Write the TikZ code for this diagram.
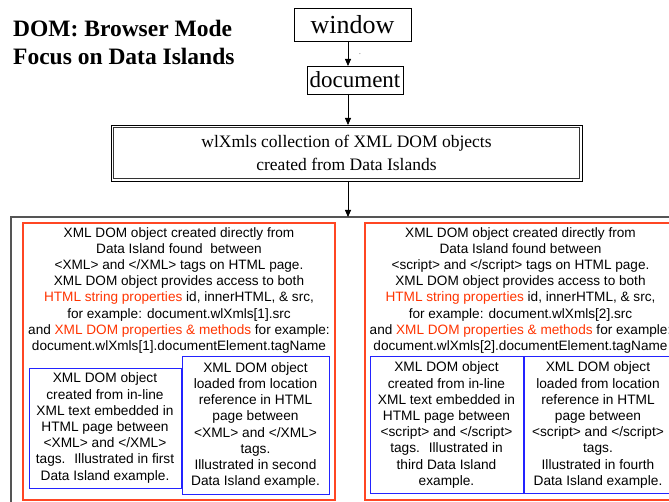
\documentclass[tikz,border=0pt]{standalone}
\usepackage{fontspec}
\setmainfont{Liberation Serif}
\setsansfont{Liberation Sans}
\usetikzlibrary{arrows.meta}
\definecolor{islandred}{RGB}{255,70,35}
\definecolor{propred}{RGB}{255,51,0}
\definecolor{boxblue}{RGB}{35,35,255}
\definecolor{framegray}{RGB}{85,85,85}
\newcommand{\prop}[1]{\textcolor{propred}{#1}}
\begin{document}
\begin{tikzpicture}[x=1pt,y=-1pt,
  plainbox/.style={draw, line width=0.8pt, inner sep=0pt, outer sep=0pt},
  link/.style={-{Triangle[length=7pt,width=6pt]}, line width=0.8pt},
  redbox/.style={draw=islandred, line width=1.2pt, inner sep=0pt, outer sep=0pt},
  bluebox/.style={draw=boxblue, line width=1pt, inner sep=0pt, outer sep=0pt,
    align=center, font=\sffamily\fontsize{13.7}{16.2}\selectfont},
  bodytext/.style={align=center, inner sep=0pt, font=\sffamily\fontsize{13.6}{16.1}\selectfont}]
\useasboundingbox (0,0) rectangle (669,502);
\clip (0,0) rectangle (669,502);

% title
\node[anchor=north west, inner sep=0pt, align=left,
  font=\bfseries\fontsize{23.5}{28}\selectfont] (title) at (13,20)
  {DOM: Browser Mode\\Focus on Data Islands};

% object chain
\node[plainbox, minimum width=117pt, minimum height=33pt,
  font=\fontsize{26}{30}\selectfont] (win) at (352.5,24.5) {window};
\node[inner sep=0pt, font=\fontsize{9}{9}\selectfont, text=gray] (dot) at (360,54) {.};
\node[plainbox, minimum width=96pt, minimum height=28pt,
  font=\fontsize{23}{26}\selectfont] (doc) at (355,80) {document};
\node[draw=black, line width=0.9pt, inner sep=0pt, outer sep=0pt,
  minimum width=471pt, minimum height=56pt, align=center,
  font=\fontsize{17.5}{23}\selectfont] (coll) at (346.5,153)
  {wlXmls collection of XML DOM objects\\created from Data Islands};
\draw[line width=0.9pt, draw=black!80]
  ([shift={(2.8,2.8)}]coll.north west) rectangle ([shift={(-2.8,-2.8)}]coll.south east);

% frame holding the two island kinds
\node[draw=framegray, line width=1.3pt, inner sep=0pt, outer sep=0pt,
  minimum width=689pt, minimum height=303pt] (frame) at (355.5,368.5) {};

\coordinate (ax) at (348,0);
\draw[link] (win.south -| ax) -- (doc.north -| ax);
\draw[link] (doc.south -| ax) -- (coll.north -| ax);
\draw[link] (coll.south -| ax) -- (frame.north -| ax);

% XML islands
\node[redbox, minimum width=312pt, minimum height=277pt] (red1) at (179,361.5) {};
\node[bodytext, anchor=north] (txt1) at (179,227.5)
  {XML DOM object created directly from\\
   Data Island found~ between\\
   <XML> and </XML> tags on HTML page.\\
   XML DOM object provides access to both\\
   \prop{HTML string properties} id, innerHTML, \& src,\\
   for example: document.wlXmls[1].src\\
   and \prop{XML DOM properties \& methods} for example:\\
   document.wlXmls[1].documentElement.tagName};
\node[bluebox, minimum width=152pt, minimum height=120pt] (blue1) at (105,428)
  {XML DOM object\\created from in-line\\XML text embedded in\\HTML page between\\
   <XML> and </XML>\\tags.~ Illustrated in first\\Data Island example.};
\node[bluebox, minimum width=147pt, minimum height=137pt] (blue2) at (255.5,425.5)
  {XML DOM object\\loaded from location\\reference in HTML\\page between\\
   <XML> and </XML>\\tags.\\ Illustrated in second\\Data Island example.};

% script islands
\node[redbox, minimum width=311pt, minimum height=277pt] (red2) at (520.5,361.5) {};
\node[bodytext, anchor=north] (txt2) at (520.5,227.5)
  {XML DOM object created directly from\\
   Data Island found between\\
   <script> and </script> tags on HTML page.\\
   XML DOM object provides access to both\\
   \prop{HTML string properties} id, innerHTML, \& src,\\
   for example: document.wlXmls[2].src\\
   and \prop{XML DOM properties \& methods} for example:\\
   document.wlXmls[2].documentElement.tagName};
\node[bluebox, minimum width=153pt, minimum height=136pt] (blue3) at (446.5,425)
  {XML DOM object\\created from in-line\\XML text embedded in\\HTML page between\\
   <script> and </script>\\tags.~ Illustrated in\\third Data Island\\example.};
\node[bluebox, minimum width=148pt, minimum height=136pt] (blue4) at (598,425)
  {XML DOM object\\loaded from location\\reference in HTML\\page between\\
   <script> and </script>\\tags.\\ Illustrated in fourth\\Data Island example.};
\end{tikzpicture}
\end{document}
